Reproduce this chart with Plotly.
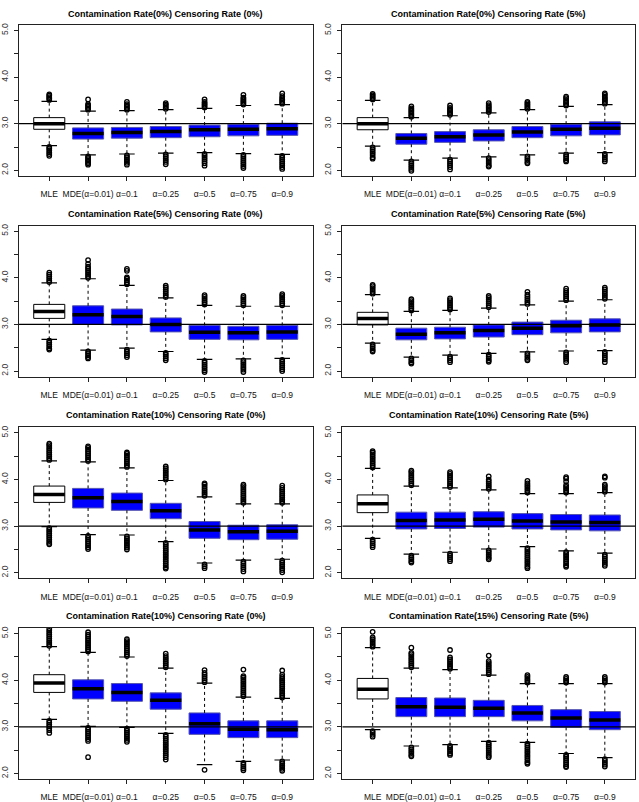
import plotly.graph_objects as go

# ---------------- data ----------------
CATEGORIES = ["MLE", "MDE(α=0.01)", "α=0.1", "α=0.25", "α=0.5", "α=0.75", "α=0.9"]

TITLES = [
    "Contamination Rate(0%) Censoring Rate (0%)",
    "Contamination Rate(0%) Censoring Rate (5%)",
    "Contamination Rate(5%) Censoring Rate (0%)",
    "Contamination Rate(5%) Censoring Rate (5%)",
    "Contamination Rate(10%) Censoring Rate (0%)",
    "Contamination Rate(10%) Censoring Rate (5%)",
    "Contamination Rate(10%) Censoring Rate (0%)",
    "Contamination Rate(15%) Censoring Rate (5%)",
]

REF_LINE = 3.0
Y_TICKS = [2.0, 2.5, 3.0, 3.5, 4.0, 4.5, 5.0]
Y_TICKTEXT = ["2.0", "", "3.0", "", "4.0", "", "5.0"]
Y_RANGE = [1.88, 5.12]

MEDIAN = [
    [3.00, 2.79, 2.81, 2.83, 2.87, 2.88, 2.89],
    [3.00, 2.69, 2.72, 2.76, 2.82, 2.88, 2.90],
    [3.28, 3.21, 3.17, 3.00, 2.83, 2.82, 2.84],
    [3.13, 2.79, 2.82, 2.87, 2.92, 2.97, 2.99],
    [3.68, 3.61, 3.53, 3.33, 2.92, 2.88, 2.89],
    [3.48, 3.12, 3.13, 3.15, 3.11, 3.09, 3.08],
    [3.94, 3.82, 3.74, 3.57, 3.07, 2.95, 2.94],
    [3.81, 3.43, 3.42, 3.40, 3.30, 3.19, 3.15],
]
Q1 = [
    [2.88, 2.67, 2.69, 2.70, 2.72, 2.74, 2.75],
    [2.87, 2.56, 2.60, 2.63, 2.70, 2.74, 2.76],
    [3.13, 3.00, 2.99, 2.84, 2.68, 2.67, 2.68],
    [2.99, 2.67, 2.69, 2.73, 2.78, 2.82, 2.84],
    [3.51, 3.39, 3.34, 3.16, 2.74, 2.71, 2.72],
    [3.29, 2.94, 2.95, 2.98, 2.94, 2.92, 2.90],
    [3.74, 3.60, 3.55, 3.38, 2.84, 2.77, 2.77],
    [3.60, 3.22, 3.22, 3.22, 3.13, 2.99, 2.94],
]
Q3 = [
    [3.13, 2.91, 2.92, 2.94, 2.97, 2.99, 3.01],
    [3.13, 2.79, 2.83, 2.87, 2.94, 2.99, 3.04],
    [3.43, 3.40, 3.33, 3.14, 2.98, 2.96, 2.98],
    [3.26, 2.92, 2.94, 2.99, 3.05, 3.09, 3.12],
    [3.86, 3.81, 3.71, 3.49, 3.10, 3.02, 3.03],
    [3.67, 3.30, 3.30, 3.31, 3.27, 3.25, 3.24],
    [4.12, 4.01, 3.93, 3.73, 3.30, 3.13, 3.13],
    [4.04, 3.63, 3.62, 3.57, 3.46, 3.37, 3.33],
]
WHISK_LO = [
    [2.53, 2.33, 2.35, 2.37, 2.38, 2.36, 2.34],
    [2.52, 2.22, 2.26, 2.29, 2.33, 2.37, 2.38],
    [2.68, 2.45, 2.49, 2.42, 2.25, 2.26, 2.27],
    [2.60, 2.30, 2.34, 2.38, 2.41, 2.43, 2.44],
    [2.99, 2.82, 2.81, 2.67, 2.21, 2.27, 2.29],
    [2.74, 2.40, 2.44, 2.51, 2.56, 2.47, 2.42],
    [3.16, 3.01, 2.99, 2.86, 2.19, 2.26, 2.29],
    [2.94, 2.59, 2.62, 2.69, 2.67, 2.43, 2.34],
]
WHISK_HI = [
    [3.48, 3.27, 3.28, 3.30, 3.33, 3.39, 3.41],
    [3.50, 3.13, 3.17, 3.23, 3.30, 3.37, 3.41],
    [3.89, 3.98, 3.84, 3.57, 3.41, 3.39, 3.39],
    [3.64, 3.28, 3.30, 3.35, 3.42, 3.50, 3.53],
    [4.40, 4.38, 4.25, 3.98, 3.63, 3.48, 3.48],
    [4.24, 3.86, 3.82, 3.78, 3.70, 3.70, 3.72],
    [4.72, 4.60, 4.50, 4.26, 3.94, 3.64, 3.61],
    [4.70, 4.26, 4.23, 4.11, 3.93, 3.93, 3.93],
]

OUT_HI = [
    [[3.51, 3.54, 3.57, 3.60, 3.63],
     [3.30, 3.33, 3.36, 3.39, 3.42, 3.52],
     [3.30, 3.33, 3.36, 3.39, 3.42, 3.47],
     [3.32, 3.35, 3.38, 3.41, 3.44],
     [3.35, 3.38, 3.41, 3.44, 3.47, 3.52],
     [3.41, 3.44, 3.47, 3.50, 3.53, 3.56, 3.62],
     [3.43, 3.46, 3.49, 3.52, 3.55, 3.59, 3.65]],
    [[3.52, 3.55, 3.58, 3.61, 3.64],
     [3.15, 3.18, 3.21, 3.24, 3.27, 3.30, 3.33, 3.37],
     [3.19, 3.22, 3.25, 3.28, 3.31, 3.34, 3.39],
     [3.25, 3.28, 3.31, 3.34, 3.37, 3.40, 3.44],
     [3.32, 3.35, 3.38, 3.41, 3.44, 3.47],
     [3.39, 3.42, 3.45, 3.48, 3.51, 3.55, 3.58],
     [3.43, 3.46, 3.49, 3.52, 3.55, 3.58, 3.62, 3.65]],
    [[3.91, 3.95, 3.99, 4.03, 4.07, 4.11],
     [4.00, 4.04, 4.08, 4.12, 4.16, 4.20, 4.24, 4.30, 4.38],
     [3.86, 3.90, 3.94, 3.98, 4.01, 4.15, 4.19],
     [3.59, 3.63, 3.67, 3.71, 3.75, 3.79, 3.83],
     [3.43, 3.47, 3.51, 3.55, 3.59, 3.63],
     [3.41, 3.45, 3.49, 3.53, 3.57, 3.61],
     [3.41, 3.45, 3.49, 3.53, 3.57, 3.61, 3.65]],
    [[3.66, 3.70, 3.74, 3.78, 3.82, 3.85],
     [3.30, 3.34, 3.38, 3.42, 3.46, 3.50, 3.54],
     [3.32, 3.36, 3.40, 3.44, 3.48, 3.52, 3.56],
     [3.37, 3.41, 3.45, 3.49, 3.53, 3.57, 3.61],
     [3.44, 3.48, 3.52, 3.56, 3.60, 3.64, 3.70],
     [3.52, 3.56, 3.60, 3.64, 3.68, 3.72, 3.77],
     [3.55, 3.59, 3.63, 3.67, 3.71, 3.75, 3.79]],
    [[4.42, 4.46, 4.50, 4.54, 4.58, 4.62, 4.66, 4.70, 4.74, 4.77],
     [4.40, 4.44, 4.48, 4.52, 4.56, 4.60, 4.64, 4.68, 4.71],
     [4.27, 4.31, 4.35, 4.39, 4.43, 4.47, 4.51, 4.55, 4.58],
     [4.00, 4.04, 4.08, 4.12, 4.16, 4.20, 4.24, 4.28],
     [3.65, 3.69, 3.73, 3.77, 3.81, 3.85, 3.89, 3.92],
     [3.50, 3.54, 3.58, 3.62, 3.66, 3.70, 3.74, 3.78, 3.82, 3.86, 3.89],
     [3.50, 3.54, 3.58, 3.62, 3.66, 3.70, 3.74, 3.78, 3.82, 3.87]],
    [[4.26, 4.30, 4.34, 4.38, 4.42, 4.46, 4.50, 4.54, 4.58, 4.61],
     [3.88, 3.92, 3.96, 4.00, 4.04, 4.08, 4.12, 4.16, 4.19],
     [3.84, 3.88, 3.92, 3.96, 4.00, 4.04, 4.08, 4.12, 4.16],
     [3.80, 3.84, 3.88, 3.92, 3.96, 4.00, 4.07],
     [3.72, 3.76, 3.80, 3.84, 3.88, 3.92, 3.97],
     [3.72, 3.76, 3.80, 3.84, 3.88, 3.96, 4.02, 4.05],
     [3.74, 3.78, 3.82, 3.86, 3.89, 4.04, 4.07]],
    [[4.74, 4.78, 4.82, 4.86, 4.90, 4.94, 4.98, 5.02, 5.06, 5.10],
     [4.62, 4.66, 4.70, 4.74, 4.78, 4.82, 4.86, 4.90, 4.94, 4.98, 5.03],
     [4.52, 4.56, 4.60, 4.64, 4.68, 4.72, 4.76, 4.80, 4.84, 4.88],
     [4.28, 4.32, 4.36, 4.40, 4.44, 4.48, 4.52, 4.57],
     [3.96, 4.00, 4.04, 4.08, 4.12, 4.16, 4.22],
     [3.66, 3.70, 3.74, 3.78, 3.82, 3.86, 3.90, 3.94, 3.98, 4.02, 4.06, 4.09, 4.23],
     [3.63, 3.67, 3.71, 3.75, 3.79, 3.83, 3.87, 3.91, 3.95, 3.99, 4.03, 4.07, 4.12, 4.21]],
    [[4.72, 4.76, 4.80, 4.84, 4.88, 4.92, 5.04],
     [4.28, 4.32, 4.36, 4.40, 4.44, 4.48, 4.52, 4.56, 4.59, 4.70],
     [4.25, 4.29, 4.33, 4.37, 4.41, 4.45, 4.49, 4.65],
     [4.13, 4.17, 4.21, 4.25, 4.29, 4.33, 4.37, 4.41, 4.53],
     [3.95, 3.99, 4.03, 4.07, 4.11],
     [3.95, 3.99, 4.03, 4.07],
     [3.95, 3.99, 4.03, 4.07]],
]

OUT_LO = [
    [[2.50, 2.47, 2.43, 2.39, 2.35, 2.31],
     [2.30, 2.27, 2.24, 2.21, 2.18, 2.15, 2.12],
     [2.32, 2.28, 2.24, 2.20, 2.16, 2.12],
     [2.34, 2.30, 2.26, 2.22, 2.18, 2.13],
     [2.35, 2.31, 2.27, 2.23, 2.19, 2.15, 2.10],
     [2.33, 2.29, 2.25, 2.21, 2.17, 2.13, 2.09, 2.05],
     [2.31, 2.27, 2.23, 2.19, 2.15, 2.11, 2.07, 2.03]],
    [[2.49, 2.45, 2.41, 2.37, 2.33, 2.28, 2.25],
     [2.19, 2.15, 2.11, 2.07, 2.03, 1.99],
     [2.23, 2.19, 2.15, 2.11, 2.07, 2.02],
     [2.26, 2.22, 2.18, 2.14, 2.10, 2.08],
     [2.30, 2.26, 2.22, 2.18, 2.15],
     [2.34, 2.30, 2.26, 2.22, 2.19],
     [2.35, 2.31, 2.27, 2.23, 2.19]],
    [[2.65, 2.61, 2.57, 2.53, 2.49, 2.46],
     [2.42, 2.38, 2.34, 2.30, 2.27],
     [2.46, 2.42, 2.38, 2.34, 2.30],
     [2.39, 2.35, 2.31, 2.27, 2.23],
     [2.22, 2.18, 2.14, 2.10, 2.06, 2.02, 1.98],
     [2.23, 2.19, 2.15, 2.11, 2.07, 2.03, 1.98],
     [2.24, 2.20, 2.16, 2.12, 2.08, 2.04, 2.00]],
    [[2.57, 2.53, 2.49, 2.45, 2.42],
     [2.27, 2.23, 2.19, 2.16],
     [2.31, 2.27, 2.23, 2.19],
     [2.35, 2.31, 2.27, 2.23, 2.20],
     [2.38, 2.34, 2.30, 2.26, 2.23],
     [2.40, 2.36, 2.32, 2.28, 2.24, 2.19],
     [2.41, 2.37, 2.33, 2.29, 2.25, 2.19]],
    [[2.96, 2.92, 2.88, 2.84, 2.80, 2.76, 2.72, 2.68, 2.64, 2.61],
     [2.79, 2.75, 2.71, 2.67, 2.63, 2.59, 2.55, 2.51],
     [2.78, 2.74, 2.70, 2.66, 2.62, 2.58, 2.54, 2.50],
     [2.64, 2.60, 2.56, 2.52, 2.48, 2.44, 2.40, 2.36, 2.32, 2.28, 2.24, 2.20, 2.16, 2.12, 2.09],
     [2.18, 2.14, 2.10],
     [2.24, 2.20, 2.16, 2.12, 2.08, 2.03],
     [2.26, 2.22, 2.18, 2.14, 2.10, 2.06, 2.01]],
    [[2.71, 2.67, 2.63, 2.59, 2.55],
     [2.37, 2.33, 2.29, 2.25, 2.22],
     [2.41, 2.37, 2.33, 2.29, 2.25],
     [2.48, 2.44, 2.40, 2.36, 2.32, 2.29],
     [2.53, 2.49, 2.45, 2.41, 2.37, 2.33, 2.29, 2.25, 2.21, 2.17, 2.13, 2.10],
     [2.44, 2.40, 2.36, 2.32, 2.28, 2.24, 2.20, 2.16, 2.13],
     [2.39, 2.35, 2.31, 2.27, 2.23, 2.19, 2.15]],
    [[3.13, 3.09, 3.05, 3.01, 2.97, 2.93, 2.87],
     [2.98, 2.94, 2.90, 2.86, 2.82, 2.78, 2.74, 2.70, 2.35],
     [2.96, 2.92, 2.88, 2.84, 2.80, 2.76, 2.72, 2.68],
     [2.83, 2.79, 2.75, 2.71, 2.67, 2.63, 2.59, 2.55, 2.51, 2.47, 2.43, 2.39, 2.35, 2.30],
     [2.08],
     [2.23, 2.19, 2.15, 2.11, 2.07],
     [2.26, 2.22, 2.18, 2.14, 2.10, 2.06]],
    [[2.91, 2.87, 2.83, 2.79],
     [2.56, 2.52, 2.48, 2.44, 2.40, 2.37],
     [2.59, 2.55, 2.51, 2.47, 2.43, 2.40],
     [2.66, 2.62, 2.58, 2.54, 2.50, 2.46, 2.42, 2.38, 2.35],
     [2.64, 2.60, 2.56, 2.52, 2.48, 2.44, 2.40, 2.36, 2.32, 2.28, 2.24, 2.21],
     [2.40, 2.36, 2.32, 2.28, 2.24, 2.20, 2.16, 2.14],
     [2.31, 2.27, 2.23, 2.19, 2.15]],
]

# ---------------- layout / style ----------------
W, H = 639, 802
COL_X = [(18, 312), (342, 635)]
ROW_Y = [(23, 175), (225, 377), (428, 580), (630, 782)]
TITLE_Y = [12, 213, 416, 618]
BOX_HALF = 0.4
CAP_HALF = 0.2
SANS = "Liberation Sans, Arial, Helvetica, sans-serif"
BOX_FILL = ["#ffffff"] + ["#0000ff"] * 6
BOX_EDGE = ["#000000"] + ["#5555b0"] * 6

fig = go.Figure()
layout_axes = {}
annotations = []
shapes = []

for k in range(8):
    r, c = divmod(k, 2)
    n = k + 1
    xr = "x" if n == 1 else f"x{n}"
    yr = "y" if n == 1 else f"y{n}"
    pos = list(range(1, len(CATEGORIES) + 1))

    # boxes (one polygon per box)
    for i, p in enumerate(pos):
        fig.add_trace(go.Scatter(
            x=[p - BOX_HALF, p + BOX_HALF, p + BOX_HALF, p - BOX_HALF, p - BOX_HALF],
            y=[Q1[k][i], Q1[k][i], Q3[k][i], Q3[k][i], Q1[k][i]],
            mode="lines", fill="toself", fillcolor=BOX_FILL[i],
            line=dict(color=BOX_EDGE[i], width=1),
            xaxis=xr, yaxis=yr, showlegend=False, hoverinfo="skip"))

    # dashed whiskers
    wx, wy = [], []
    for i, p in enumerate(pos):
        wx += [p, p, None, p, p, None]
        wy += [Q3[k][i], WHISK_HI[k][i], None, Q1[k][i], WHISK_LO[k][i], None]
    fig.add_trace(go.Scatter(x=wx, y=wy, mode="lines",
                             line=dict(color="black", width=1, dash="3px,3px"),
                             xaxis=xr, yaxis=yr, showlegend=False, hoverinfo="skip"))
    # caps
    cx, cy = [], []
    for i, p in enumerate(pos):
        cx += [p - CAP_HALF, p + CAP_HALF, None, p - CAP_HALF, p + CAP_HALF, None]
        cy += [WHISK_HI[k][i], WHISK_HI[k][i], None, WHISK_LO[k][i], WHISK_LO[k][i], None]
    fig.add_trace(go.Scatter(x=cx, y=cy, mode="lines",
                             line=dict(color="black", width=1.2),
                             xaxis=xr, yaxis=yr, showlegend=False, hoverinfo="skip"))
    # medians
    mx, my = [], []
    for i, p in enumerate(pos):
        mx += [p - BOX_HALF, p + BOX_HALF, None]
        my += [MEDIAN[k][i], MEDIAN[k][i], None]
    fig.add_trace(go.Scatter(x=mx, y=my, mode="lines",
                             line=dict(color="black", width=3.5),
                             xaxis=xr, yaxis=yr, showlegend=False, hoverinfo="skip"))
    # outliers
    ox, oy = [], []
    for i, p in enumerate(pos):
        for v in OUT_HI[k][i] + OUT_LO[k][i]:
            ox.append(p)
            oy.append(v)
    fig.add_trace(go.Scatter(x=ox, y=oy, mode="markers",
                             marker=dict(symbol="circle-open", size=4.5, color="black",
                                         line=dict(width=1.3, color="black")),
                             xaxis=xr, yaxis=yr, showlegend=False, hoverinfo="skip"))

    # reference line at 3
    shapes.append(dict(type="line", xref=f"{xr} domain", yref=yr, x0=0, x1=1,
                       y0=REF_LINE, y1=REF_LINE, line=dict(color="black", width=1.3),
                       layer="above"))

    x0, x1 = COL_X[c]
    ytop, ybot = ROW_Y[r]
    xkey = "xaxis" if n == 1 else f"xaxis{n}"
    ykey = "yaxis" if n == 1 else f"yaxis{n}"
    layout_axes[xkey] = dict(
        domain=[x0 / W, x1 / W], anchor=yr, range=[0.22, len(CATEGORIES) + 0.78],
        tickvals=pos, ticktext=CATEGORIES, tickangle=0,
        ticks="outside", ticklen=4, tickcolor="#222", showgrid=False, zeroline=False,
        showline=True, mirror=True, linecolor="#222", linewidth=1,
        tickfont=dict(family=SANS, size=8.5, color="#111"), ticklabelstandoff=6)
    layout_axes[ykey] = dict(
        domain=[1 - ybot / H, 1 - ytop / H], anchor=xr, range=Y_RANGE,
        tickvals=Y_TICKS, ticktext=Y_TICKTEXT, tickangle=-90,
        ticks="outside", ticklen=4, tickcolor="#222", showgrid=False, zeroline=False,
        showline=True, mirror=True, linecolor="#222", linewidth=1,
        tickfont=dict(family=SANS, size=8.5, color="#333"),
        ticklabelstandoff=3)

    annotations.append(dict(
        text=f"<b>{TITLES[k]}</b>", xref="paper", yref="paper",
        x=(x0 + x1) / 2 / W, y=1 - TITLE_Y[r] / H, xanchor="center", yanchor="middle",
        showarrow=False, font=dict(family=SANS, size=9, color="black")))

fig.update_layout(
    width=W, height=H, margin=dict(l=0, r=0, t=0, b=0),
    paper_bgcolor="white", plot_bgcolor="white",
    showlegend=False, annotations=annotations, shapes=shapes, **layout_axes)

fig.write_html("out.html")
